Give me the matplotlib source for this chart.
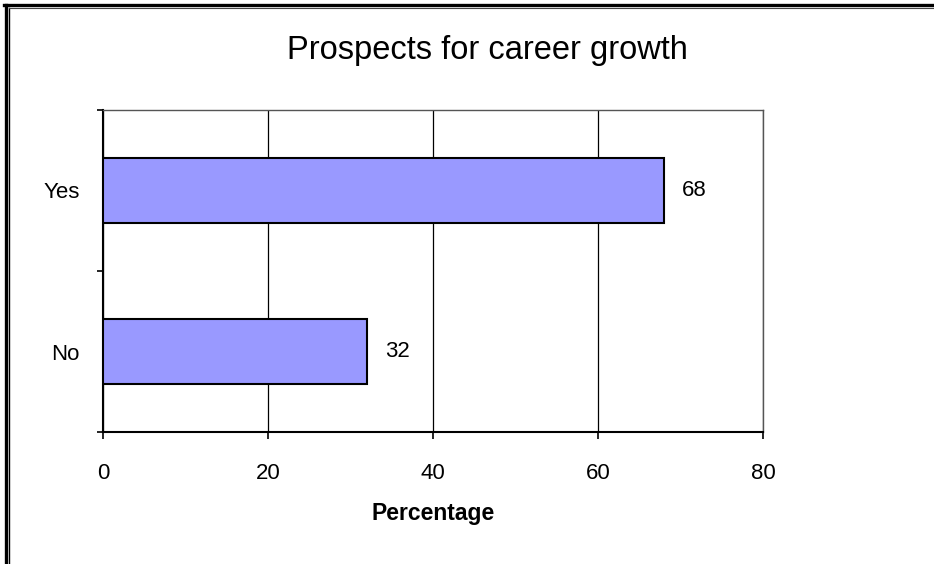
import matplotlib
matplotlib.use("Agg")
import matplotlib.pyplot as plt
from matplotlib.lines import Line2D

categories = ["No", "Yes"]
percentages = [32, 68]
x_ticks = [0, 20, 40, 60, 80]

plt.rcParams["font.family"] = ["Liberation Sans", "DejaVu Sans"]

fig = plt.figure(figsize=(9.34, 5.64), dpi=100)
ax = fig.add_axes([0.1103, 0.234, 0.7066, 0.571])

pos = list(range(len(categories)))
ax.barh(pos, percentages, height=0.4, color="#9999FF", edgecolor="black",
        linewidth=1.5, zorder=3)

for y, v in zip(pos, percentages):
    ax.annotate(str(v), (v, y), xytext=(13, 0), textcoords="offset points",
                va="center", ha="left", fontsize=16)

ax.set_xlim(0, 80)
ax.set_ylim(-0.5, 1.5)
ax.set_xticks(x_ticks)
ax.set_xticklabels([str(t) for t in x_ticks], fontsize=16)
ax.tick_params(axis="x", length=5, width=1.2, pad=17)

# category labels sit between the boundary ticks
ax.set_yticks([-0.5, 0.5, 1.5])
ax.set_yticklabels([])
ax.set_yticks(pos, minor=True)
ax.set_yticklabels(categories, minor=True, fontsize=16)
ax.tick_params(axis="y", which="major", length=4.5, width=1.2)
ax.tick_params(axis="y", which="minor", length=0, pad=17)

ax.grid(axis="x", color="black", linewidth=0.9, zorder=0)
for side in ["left", "bottom"]:
    ax.spines[side].set_linewidth(1.5)
for side in ["top", "right"]:
    ax.spines[side].set_linewidth(1.0)
    ax.spines[side].set_color("#555555")

ax.set_xlabel("Percentage", fontsize=16.5, fontweight="bold", labelpad=13)
fig.text(0.522, 0.911, "Prospects for career growth", ha="center",
         va="center", fontsize=23.5)

# double frame around the slide
fig.add_artist(Line2D([0.0059, 0.0059], [0, 0.992], color="black", lw=2.4,
                      transform=fig.transFigure))
fig.add_artist(Line2D([0.0093, 0.0093], [0, 0.986], color="black", lw=1.0,
                      transform=fig.transFigure))
fig.add_artist(Line2D([0.004, 1], [0.9905, 0.9905], color="black", lw=2.4,
                      transform=fig.transFigure))
fig.add_artist(Line2D([0.0093, 1], [0.985, 0.985], color="#444444", lw=0.8,
                      transform=fig.transFigure))

fig.savefig("out.png", dpi=100)
